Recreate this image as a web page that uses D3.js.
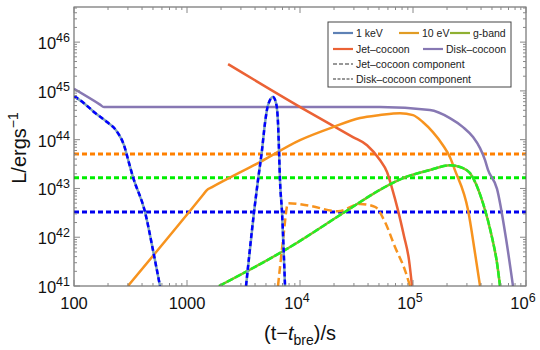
<!DOCTYPE html>
<html>
<head>
<meta charset="utf-8">
<script src="https://cdn.jsdelivr.net/npm/d3@7"></script>
<style>
  body { margin: 0; background: #fff; }
  svg { font-family: "Liberation Sans", Arial, sans-serif; }
</style>
</head>
<body>
<svg width="540" height="350"></svg>
<script>
// ---- data (t in s, L in erg/s) ----
var diskT = [100, 170, 184, 1e4, 5.1e4, 1.41e5, 2.12e5, 2.77e5, 3.4e5, 3.92e5, 4.34e5, 4.61e5, 5.54e5, 6.65e5, 7.67e5];
var diskL = [1.1e45, 5.24e44, 4.66e44, 4.66e44, 4.66e44, 4.05e44, 2.77e44, 1.81e44, 1.13e44, 6.7e43, 3.8e43, 2.4e43, 9.8e42, 9.5e41, 1e41];

var jetT = [2.31e3, 1.04e4, 2.94e4, 3.92e4, 5.1e4, 5.89e4, 6.52e4, 7.36e4, 8.32e4, 9.22e4, 9.8e4];
var jetL = [3.54e45, 4.45e44, 1.13e44, 7.7e43, 3.82e43, 2.17e43, 1.02e43, 3.6e42, 1.06e42, 3.4e41, 1e41];

var keVt1 = [100, 122.6, 150, 196, 235, 277, 307, 333, 425, 510, 577];
var keVL1 = [7.8e44, 5.6e44, 3.7e44, 2.3e44, 1.57e44, 7.7e43, 3.3e43, 1.7e43, 3.3e42, 4.3e41, 1e41];
var keVt2 = [3.33e3, 3.92e3, 4.25e3, 4.61e3, 4.9e3, 5.21e3, 5.77e3, 6.14e3, 6.39e3, 6.52e3, 6.65e3, 6.93e3, 7.37e3];
var keVL2 = [1e41, 3.3e42, 1.49e43, 6.1e43, 2.19e44, 5.1e44, 7.5e44, 5.6e44, 2.19e44, 6.1e43, 1.49e43, 3.3e42, 1e41];

var eVt = [300, 1.4e3, 1.5e3, 1.65e3, 4.43e3, 1e4, 1.96e4, 3.4e4, 5.1e4, 7.67e4, 1e5, 1.22e5, 1.5e5, 1.84e5, 2.12e5, 2.35e5, 3.07e5, 3.54e5, 3.92e5];
var eVL = [1e41, 7.6e42, 9.27e42, 1.05e43, 3.48e43, 9.8e43, 1.81e44, 2.77e44, 3.19e44, 3.5e44, 3.19e44, 2.3e44, 1.43e44, 7.7e43, 4.4e43, 2.38e43, 3.6e42, 4.7e41, 1e41];
var eVjetT = [6.39e3, 7.08e3, 7.84e3, 1.22e4, 2.17e4, 3.4e4, 4.61e4, 5.65e4, 6.93e4, 8.5e4, 9.4e4];
var eVjetL = [1e41, 8.8e41, 5.0e42, 4.4e42, 3.4e42, 4.8e42, 4.2e42, 2.05e42, 6.3e41, 2.1e41, 1e41];

var gT = [1.92e3, 8.17e3, 2.41e4, 5.43e4, 8.17e4, 1.41e5, 2.12e5, 2.77e5, 3.19e5, 4.16e5, 5.0e5, 5.54e5, 5.89e5];
var gL = [1e41, 6.3e41, 3.13e42, 1.02e43, 1.63e43, 2.38e43, 3.0e43, 2.62e43, 2.07e43, 5.0e42, 1.0e42, 2.96e41, 1e41];

// flat disk-cocoon component levels: 10 eV, g-band, 1 keV
var compL = [5.07e43, 1.66e43, 3.28e42];
var compColors = ['#ff8000', '#00ee00', '#0000ee'];

var xMajor = [100, 1000, 1e4, 1e5, 1e6];
var xLabels = [['100', ''], ['1000', ''], ['10', '4'], ['10', '5'], ['10', '6']];
var yMajor = [1e41, 1e42, 1e43, 1e44, 1e45, 1e46];
var yLabels = ['41', '42', '43', '44', '45', '46'];

var svg = d3.select('svg');
var x = d3.scaleLog().domain([100, 1e6]).range([74, 526]);
var y = d3.scaleLog().domain([1e41, Math.pow(10, 46.72)]).range([286, 7]);

svg.append('clipPath').attr('id', 'clip')
  .append('rect').attr('x', 74).attr('y', 7).attr('width', 452).attr('height', 279);

var plot = svg.append('g').attr('clip-path', 'url(#clip)');

var line = d3.line()
  .x(function(d) { return x(d[0]); })
  .y(function(d) { return y(d[1]); })
  .curve(d3.curveMonotoneX);

function pairs(ts, ls) { return ts.map(function(t, i) { return [t, ls[i]]; }); }

// horizontal component lines
compL.forEach(function(v, i) {
  plot.append('line')
    .attr('x1', 74).attr('x2', 526)
    .attr('y1', y(v)).attr('y2', y(v))
    .attr('stroke', compColors[i]).attr('stroke-width', 3)
    .attr('stroke-dasharray', '5,3');
});

function draw(ts, ls, color, w, dash) {
  plot.append('path').datum(pairs(ts, ls))
    .attr('d', line).attr('fill', 'none')
    .attr('stroke', color).attr('stroke-width', w)
    .attr('stroke-dasharray', dash || null);
}

draw(diskT, diskL, '#8778B3', 2.5);
draw(jetT, jetL, '#EB6235', 2.5);
draw(eVt, eVL, '#F7931E', 2.5);
draw(eVjetT, eVjetL, '#F7931E', 2.5, '8,4');
draw(gT, gL, '#8FB032', 2.5);
draw(gT, gL, '#22ee22', 2.5, '7,2');
draw(keVt1, keVL1, '#7fa3b8', 2.5);
draw(keVt1, keVL1, '#0000ff', 2.5, '5,3');
draw(keVt2, keVL2, '#7fa3b8', 2.5);
draw(keVt2, keVL2, '#0000ff', 2.5, '5,3');

// frame
svg.append('rect').attr('x', 74).attr('y', 7).attr('width', 452).attr('height', 279)
  .attr('fill', 'none').attr('stroke', '#555').attr('stroke-width', 1);

var ticks = svg.append('g').attr('stroke', '#888').attr('stroke-width', 1);
function minorsBetween(lo, hi) {
  var out = [];
  for (var d = lo; d < hi; d *= 10)
    for (var k = 2; k <= 9; k++) if (k * d <= hi) out.push(k * d);
  return out;
}
var xMinor = minorsBetween(100, 1e6);
var yMinor = minorsBetween(1e41, Math.pow(10, 46.72));

xMajor.concat(xMinor).forEach(function(v) {
  var len = xMajor.indexOf(v) >= 0 ? 6 : 3;
  var px = x(v);
  ticks.append('line').attr('x1', px).attr('x2', px).attr('y1', 286).attr('y2', 286 - len);
  ticks.append('line').attr('x1', px).attr('x2', px).attr('y1', 7).attr('y2', 7 + len);
});
yMajor.concat(yMinor).forEach(function(v) {
  var len = yMajor.indexOf(v) >= 0 ? 6 : 3;
  var py = y(v);
  ticks.append('line').attr('x1', 74).attr('x2', 74 + len).attr('y1', py).attr('y2', py);
  ticks.append('line').attr('x1', 526).attr('x2', 526 - len).attr('y1', py).attr('y2', py);
});

// tick labels
xMajor.forEach(function(v, i) {
  var t = svg.append('text').attr('x', x(v) + (xLabels[i][1] ? -3 : 0)).attr('y', 309)
    .attr('text-anchor', 'middle').attr('font-size', 16.5).attr('fill', '#111');
  t.append('tspan').text(xLabels[i][0]);
  if (xLabels[i][1]) t.append('tspan').attr('dy', -7).attr('font-size', 12.5).text(xLabels[i][1]);
});
yMajor.forEach(function(v, i) {
  var t = svg.append('text').attr('x', 70).attr('y', y(v) + 7)
    .attr('text-anchor', 'end').attr('font-size', 16.5).attr('fill', '#111');
  t.append('tspan').text('10');
  t.append('tspan').attr('dy', -7).attr('font-size', 12.5).text(yLabels[i]);
});

// axis titles
var xt = svg.append('text').attr('x', 300).attr('y', 340).attr('text-anchor', 'middle')
  .attr('font-size', 20).attr('fill', '#111');
xt.append('tspan').text('(t\u2212');
xt.append('tspan').attr('font-style', 'italic').text('t');
xt.append('tspan').attr('dy', 5).attr('font-size', 14).text('bre');
xt.append('tspan').attr('dy', -5).text(')/s');

var yt = svg.append('text').attr('transform', 'translate(26,148) rotate(-90)')
  .attr('text-anchor', 'middle').attr('font-size', 20).attr('fill', '#111');
yt.append('tspan').text('L/ergs');
yt.append('tspan').attr('dy', -8).attr('font-size', 14).text('\u22121');

// legend
var lg = svg.append('g').attr('font-size', 10.5).attr('fill', '#222');
lg.append('rect').attr('x', 328).attr('y', 22).attr('width', 183).attr('height', 65)
  .attr('fill', '#fff').attr('stroke', '#444').attr('stroke-width', 1);
var items = [
  { x: 333, y: 33, c: '#5E81B5', t: '1 keV' },
  { x: 399, y: 33, c: '#E19C24', t: '10 eV' },
  { x: 450, y: 33, c: '#8FB032', t: 'g-band' },
  { x: 333, y: 49, c: '#EB6235', t: 'Jet\u2013cocoon' },
  { x: 423, y: 49, c: '#8778B3', t: 'Disk\u2013cocoon' },
  { x: 333, y: 64, c: '#777', t: 'Jet\u2013cocoon component', d: '4,2' },
  { x: 333, y: 79, c: '#777', t: 'Disk\u2013cocoon component', d: '3,1.5' }
];
items.forEach(function(it) {
  lg.append('line').attr('x1', it.x).attr('x2', it.x + 20).attr('y1', it.y).attr('y2', it.y)
    .attr('stroke', it.c).attr('stroke-width', it.d ? 1.5 : 2.2)
    .attr('stroke-dasharray', it.d || null);
  lg.append('text').attr('x', it.x + 23).attr('y', it.y + 4).text(it.t);
});
</script>
</body>
</html>
